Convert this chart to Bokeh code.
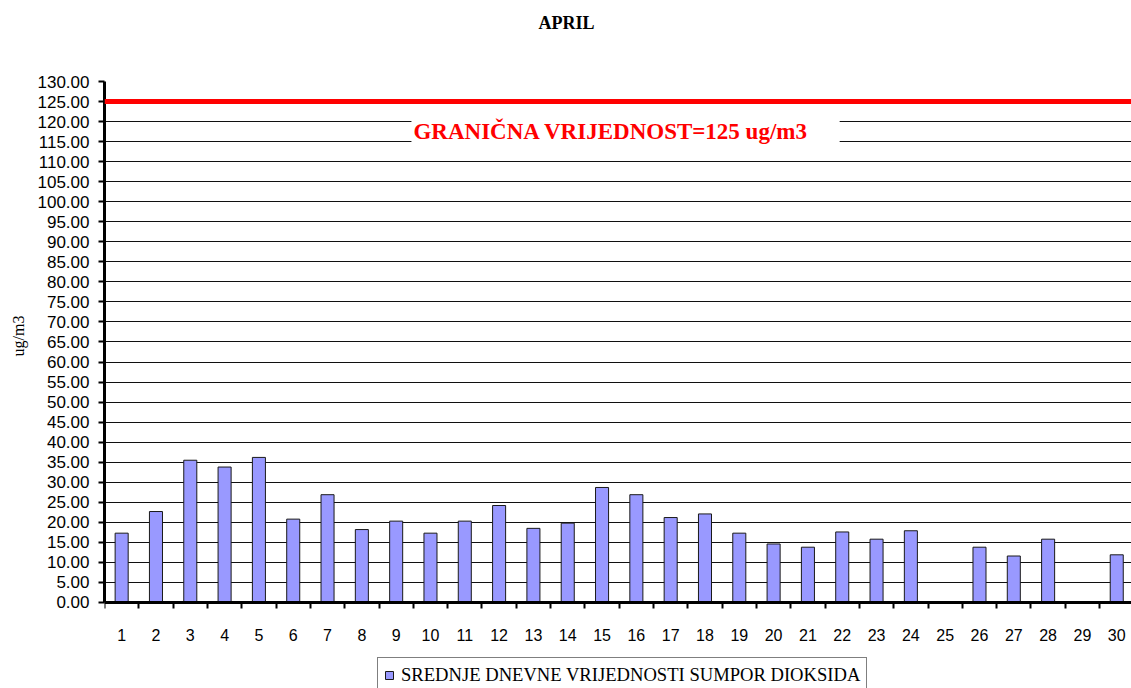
from bokeh.plotting import figure
from bokeh.models import (Span, Label, Legend, LegendItem, FixedTicker, ColumnDataSource,
                          Range1d, NumeralTickFormatter, Title)
from bokeh.embed import file_html
from bokeh.resources import INLINE

nan = float("nan")

# ---- data ----
days = list(range(1, 31))
day_labels = [str(d) for d in days]
so2 = [17.3, 22.7, 35.5, 33.8, 36.2, 20.8, 26.9, 18.2, 20.3, 17.3,
       20.3, 24.2, 18.5, 19.8, 28.7, 26.9, 21.2, 22.1, 17.3, 14.6,
       13.8, 17.6, 15.8, 17.9, nan, 13.8, 11.6, 15.8, nan, 11.9]
y_ticks = [0, 5, 10, 15, 20, 25, 30, 35, 40, 45, 50, 55, 60, 65,
           70, 75, 80, 85, 90, 95, 100, 105, 110, 115, 120, 125, 130]
limit_value = 125
series_name = "SREDNJE DNEVNE VRIJEDNOSTI SUMPOR DIOKSIDA"
limit_text = "GRANIČNA VRIJEDNOST=125 ug/m3"
title_text = "APRIL"
y_title = "ug/m3"

src = ColumnDataSource(dict(day=days, so2=so2))

# the frame reaches the bottom edge; the value axis shows 0..130 only
p = figure(width=1131, height=688, output_backend="svg", toolbar_location=None,
           x_range=Range1d(0.5, 30.43), y_range=Range1d(-21.46, 130),
           min_border_left=104, min_border_right=0, min_border_top=81, min_border_bottom=0)
p.outline_line_color = None
p.background_fill_color = "white"
p.border_fill_color = "white"

# title (spacer panel next to the frame, then the title itself)
spacer = Title(text=" ", text_font_size="10px", standoff=36)
p.add_layout(spacer, "above")
ttl = Title(text=title_text, align="left", offset=434, standoff=0,
            text_font="Liberation Serif", text_font_size="18px", text_font_style="bold",
            text_color="black")
p.add_layout(ttl, "above")

# grid
p.xgrid.grid_line_color = None
p.ygrid.ticker = FixedTicker(ticks=y_ticks)
p.ygrid.grid_line_color = "#101010"
p.ygrid.grid_line_width = 1

# y axis
p.yaxis.bounds = (0, 130)
p.yaxis.ticker = FixedTicker(ticks=y_ticks)
p.yaxis.formatter = NumeralTickFormatter(format="0.00")
p.yaxis.major_label_text_font = "Liberation Sans"
p.yaxis.major_label_text_font_size = "17px"
p.yaxis.major_label_text_color = "black"
p.yaxis.axis_line_width = 3
p.yaxis.axis_line_color = "black"
p.yaxis.major_tick_line_width = 2
p.yaxis.major_tick_out = 6
p.yaxis.major_tick_in = 0
p.yaxis.minor_tick_line_color = None
p.yaxis.major_label_standoff = 9

# value-axis title, placed beside the 0..130 part of the axis
ytitle = Title(text=y_title, align="left", offset=332, standoff=12, vertical_align="top",
               text_font="Liberation Serif", text_font_size="16px", text_font_style="normal",
               text_color="black")
p.add_layout(ytitle, "left")

# x axis at value 0: labels at day centres, tick marks between days
p.xaxis.fixed_location = 0
p.xaxis.ticker = FixedTicker(ticks=days, minor_ticks=[d - 0.5 for d in days] + [days[-1] + 0.5])
p.xaxis.major_label_overrides = {d: s for d, s in zip(days, day_labels)}
p.xaxis.major_label_text_font = "Liberation Sans"
p.xaxis.major_label_text_font_size = "16px"
p.xaxis.major_label_text_color = "black"
p.xaxis.major_tick_line_color = None
p.xaxis.major_tick_out = 0
p.xaxis.major_tick_in = 0
p.xaxis.minor_tick_out = 6
p.xaxis.minor_tick_in = 0
p.xaxis.minor_tick_line_width = 2
p.xaxis.minor_tick_line_color = "black"
p.xaxis.axis_line_width = 3
p.xaxis.axis_line_color = "black"
p.xaxis.major_label_standoff = 21

# bars
r = p.vbar(x="day", top="so2", width=0.38, source=src,
           fill_color="#9999FF", line_color="#1a1a1a", line_width=1)

# limit line
p.add_layout(Span(location=limit_value, dimension="width", line_color="#FF0000", line_width=5))
p.add_layout(Label(x=15.685, y=117.5, text=limit_text, text_align="center", text_baseline="middle",
                   text_font="Liberation Serif", text_font_size="23px", text_font_style="bold",
                   text_color="#FF0000", background_fill_color="white", background_fill_alpha=1.0,
                   padding=dict(left=2, right=31, top=6, bottom=6)))

# legend (its lower edge runs past the bottom of the page, as in the original)
legend = Legend(items=[LegendItem(label=series_name, renderers=[r])],
                location=(273, -5), orientation="horizontal", margin=0,
                label_text_font="Liberation Serif", label_text_font_size="18.6px",
                label_text_color="black",
                glyph_width=10, glyph_height=10, label_standoff=7, padding=6, spacing=0,
                border_line_color="#000000", border_line_width=1,
                background_fill_color="white", background_fill_alpha=1.0)
p.add_layout(legend)

open("out.html", "w").write(file_html(p, INLINE))
